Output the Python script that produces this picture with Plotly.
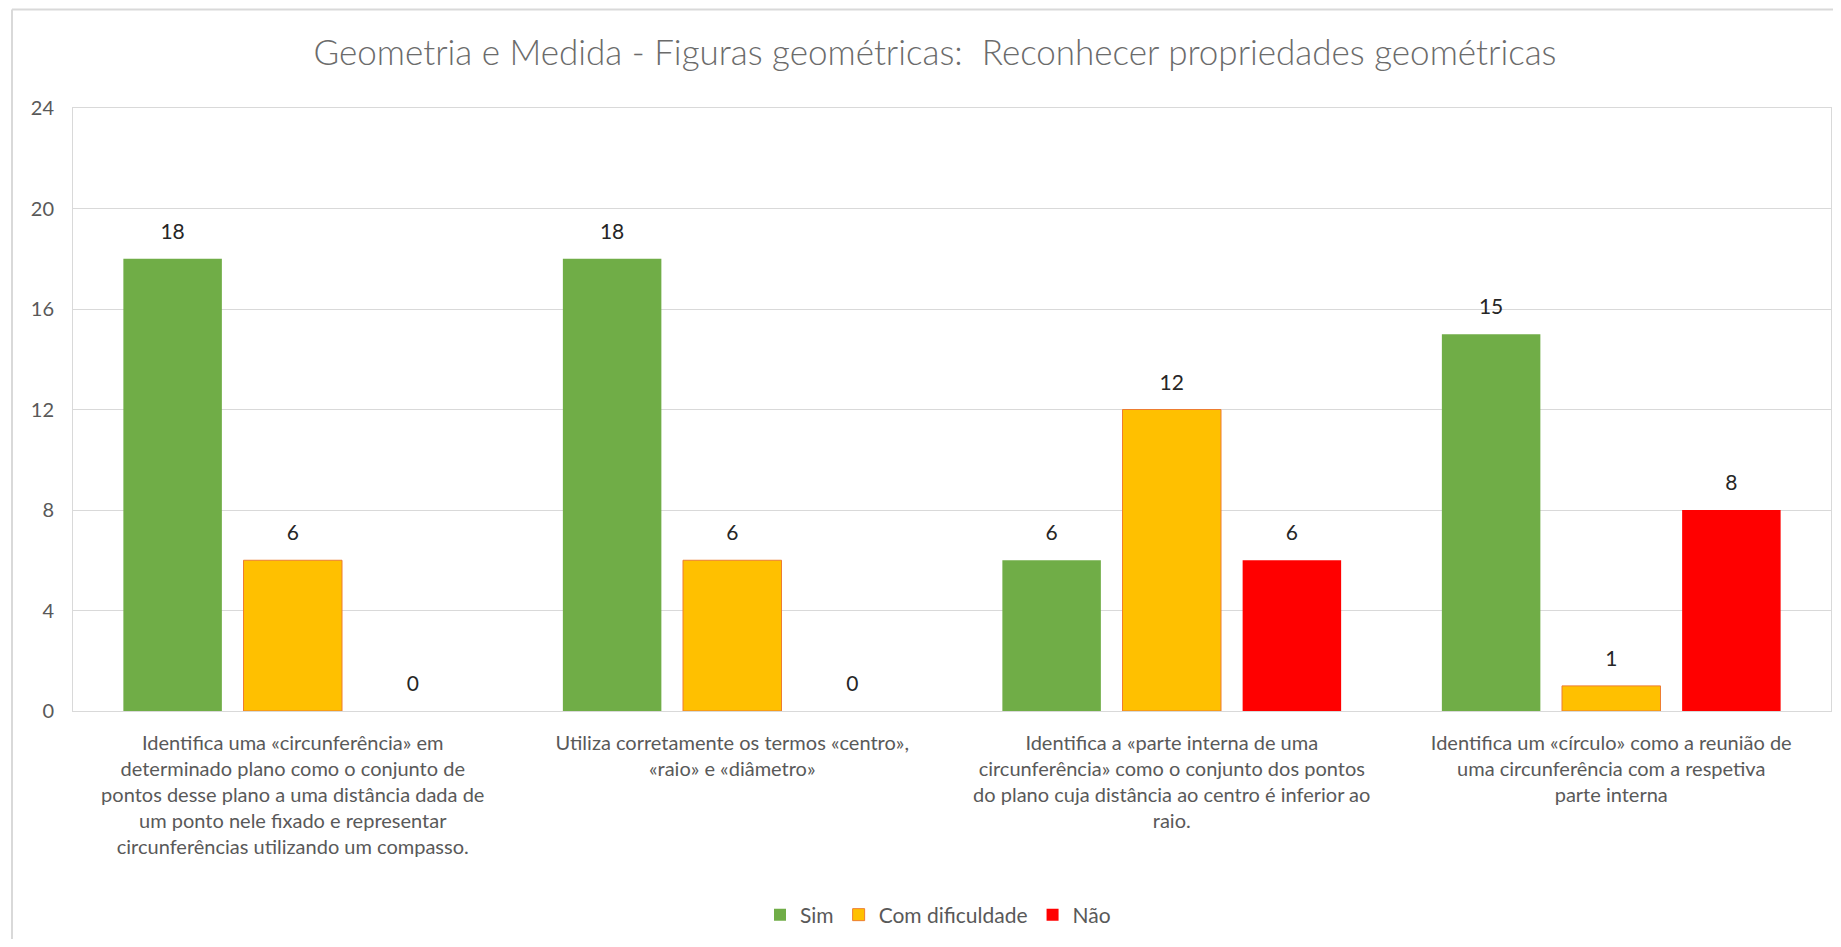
import plotly.graph_objects as go

categories = [
    "Identifica uma «circunferência» em<br>determinado plano como o conjunto de<br>pontos desse plano a uma distância dada de<br>um ponto nele fixado e representar<br>circunferências utilizando um compasso.",
    "Utiliza corretamente os termos «centro»,<br>«raio» e «diâmetro»",
    "Identifica a «parte interna de uma<br>circunferência» como o conjunto dos pontos<br>do plano cuja distância ao centro é inferior ao<br>raio.",
    "Identifica um «círculo» como a reunião de<br>uma circunferência com a respetiva<br>parte interna",
]
sim = [18, 18, 6, 15]
com_dificuldade = [6, 6, 12, 1]
nao = [0, 0, 6, 8]
y_ticks = [0, 4, 8, 12, 16, 20, 24]

# page body has an 8px margin, so the figure is laid out 8px in from the window
W, H = 1825, 931
L, R, T, B = 65, 2, 100, 228
FONT = "Lato, sans-serif"

fig = go.Figure()
series = [
    ("Sim", sim, "#70AD47", "#70AD47", 0),
    ("Com dificuldade", com_dificuldade, "#FFC000", "#ED7D31", 1),
    ("Não", nao, "#FF0000", "#FF0000", 0),
]
for i, (name, vals, fill, edge, lw) in enumerate(series):
    fig.add_trace(go.Bar(
        name=name, x=categories, y=vals, offsetgroup=str(i),
        marker=dict(color=fill, line=dict(color=edge, width=lw)),
    ))
    # data labels, lifted a bit above the bars (invisible marker sets the offset)
    fig.add_trace(go.Scatter(
        x=categories, y=vals, offsetgroup=str(i), mode="markers+text",
        text=[str(v) for v in vals], textposition="top center",
        marker=dict(size=22, opacity=0),
        textfont=dict(size=21, color="#262626", family=FONT),
        showlegend=False, hoverinfo="skip", cliponaxis=False,
    ))

pw, ph = W - L - R, H - T - B
px_ = lambda x: (x - L) / pw
py_ = lambda y: (H - B - y) / ph
# outer chart border (cropped at right/bottom)
fig.add_shape(type="line", xref="paper", yref="paper",
              x0=px_(4), x1=px_(W + 10), y0=py_(1.5), y1=py_(1.5),
              line=dict(color="#D9D9D9", width=2))
fig.add_shape(type="line", xref="paper", yref="paper",
              x0=px_(4), x1=px_(4), y0=py_(1.5), y1=py_(H + 10),
              line=dict(color="#D9D9D9", width=2))

fig.update_layout(
    width=W, height=H,
    margin=dict(l=L, r=R, t=T, b=B),
    paper_bgcolor="white", plot_bgcolor="white",
    barmode="group", bargap=0.18, bargroupgap=0.18,
    scattermode="group", scattergap=0.18,
    font=dict(family=FONT, color="#595959"),
    title=dict(text="Geometria e Medida - Figuras geométricas:  Reconhecer propriedades geométricas",
               x=px_(927), xref="paper", xanchor="center",
               y=1 - 45 / H, yanchor="middle",
               font=dict(size=35, color="#6b6b6b", family=FONT, weight=300)),
    legend=dict(orientation="h", x=px_(930), xanchor="center",
                y=py_(907), yanchor="middle", itemwidth=30,
                font=dict(size=21, color="#595959", family=FONT),
                traceorder="normal"),
)
fig.update_xaxes(showline=True, mirror=True, linecolor="#D9D9D9", linewidth=1,
                 tickfont=dict(size=20, color="#595959", family=FONT),
                 ticks="", tickangle=0, ticklabelstandoff=14)
fig.update_yaxes(range=[0, 24], tickvals=y_ticks, showgrid=True, gridcolor="#D9D9D9",
                 showline=True, mirror=True, linecolor="#D9D9D9", linewidth=1,
                 zeroline=False, ticks="", ticklabelstandoff=14,
                 tickfont=dict(size=20, color="#595959", family=FONT))

fig.write_html("out.html")
